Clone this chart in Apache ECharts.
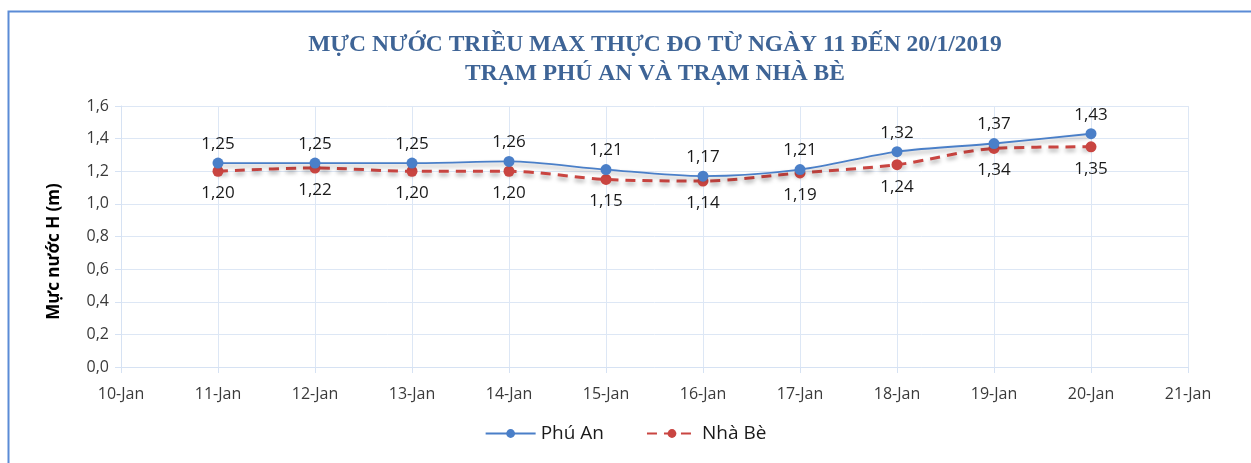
<!DOCTYPE html>
<html><head><meta charset="utf-8">
<script src="https://cdn.jsdelivr.net/npm/echarts@6/dist/echarts.min.js"></script>
<style>html,body{margin:0;padding:0;background:#fff}#c{width:1251px;height:463px}</style>
</head><body><div id="c"></div>
<script>
const categories = ['10-Jan','11-Jan','12-Jan','13-Jan','14-Jan','15-Jan','16-Jan','17-Jan','18-Jan','19-Jan','20-Jan','21-Jan'];
const phuAn = [null,1.25,1.25,1.25,1.26,1.21,1.17,1.21,1.32,1.37,1.43,null];
const nhaBe = [null,1.20,1.22,1.20,1.20,1.15,1.14,1.19,1.24,1.34,1.35,null];
const yTicks = [0,0.2,0.4,0.6,0.8,1.0,1.2,1.4,1.6];

const fmt = (v,d)=>Number(v).toFixed(d).replace('.',',');
const chart = echarts.init(document.getElementById('c'));
const font = '"Open Sans", "Noto Sans", sans-serif';
chart.setOption({
  animation:false,
  graphic:[{type:'rect',shape:{x:8.5,y:11.5,width:1300,height:500},style:{fill:'none',stroke:'#5b8bd6',lineWidth:2}}],
  title:{
    text:'MỰC NƯỚC TRIỀU MAX THỰC ĐO TỪ NGÀY 11 ĐẾN 20/1/2019\nTRẠM PHÚ AN VÀ TRẠM NHÀ BÈ',
    left:650, top:25, textAlign:'center',
    textStyle:{fontFamily:'"Liberation Serif", "DejaVu Serif", serif',fontWeight:'bold',fontSize:23.5,color:'#3e6496',lineHeight:29}
  },
  legend:{
    bottom:15, left:'center', itemWidth:50, itemHeight:11, itemGap:42,
    textStyle:{fontFamily:font,fontSize:19,color:'#1a1a1a'},
    data:['Phú An','Nhà Bè']
  },
  grid:{left:121,right:63,top:106,bottom:96,containLabel:false},
  xAxis:{
    type:'category',data:categories,boundaryGap:false,
    axisLine:{show:true,lineStyle:{color:'#d6e2f3',width:1}},
    axisTick:{show:true,length:6,alignWithLabel:true,lineStyle:{color:'#d6e2f3'}},
    axisLabel:{fontFamily:font,fontSize:16,color:'#3a3a3a',margin:19},
    splitLine:{show:true,lineStyle:{color:'#dde7f5',width:1}}
  },
  yAxis:{
    type:'value',min:0,max:1.6,interval:0.2,
    name:'Mực nước H (m)',nameLocation:'middle',nameGap:58,nameRotate:90,
    nameTextStyle:{fontFamily:font,fontSize:17,fontWeight:'bold',color:'#000',padding:[0,0,0,-30]},
    axisLine:{show:true,lineStyle:{color:'#d6e2f3'}},
    axisTick:{show:true,length:6,lineStyle:{color:'#d6e2f3'}},
    axisLabel:{fontFamily:font,fontSize:16,color:'#3a3a3a',margin:12,formatter:v=>fmt(v,1)},
    splitLine:{show:true,lineStyle:{color:'#dde7f5',width:1}}
  },
  series:[
    {name:'Phú An',type:'line',data:phuAn,smooth:0.3,connectNulls:false,
     symbol:'circle',symbolSize:11,z:3,
     itemStyle:{color:'#4a7fc8'},
     lineStyle:{color:'#4a7fc8',width:1.8,shadowColor:'rgba(0,0,0,0.35)',shadowBlur:4,shadowOffsetY:3},
     label:{show:true,position:'top',distance:5,fontFamily:font,fontSize:17,color:'#1a1a1a',formatter:p=>fmt(p.value,2)}},
    {name:'Nhà Bè',type:'line',data:nhaBe,smooth:0.3,connectNulls:false,
     symbol:'circle',symbolSize:11,z:2,
     itemStyle:{color:'#c94541'},
     lineStyle:{color:'#c94541',width:3,type:[10,7],shadowColor:'rgba(0,0,0,0.35)',shadowBlur:4,shadowOffsetY:3},
     label:{show:true,position:'bottom',distance:8,fontFamily:font,fontSize:17,color:'#1a1a1a',formatter:p=>fmt(p.value,2)}}
  ]
});
</script></body></html>
